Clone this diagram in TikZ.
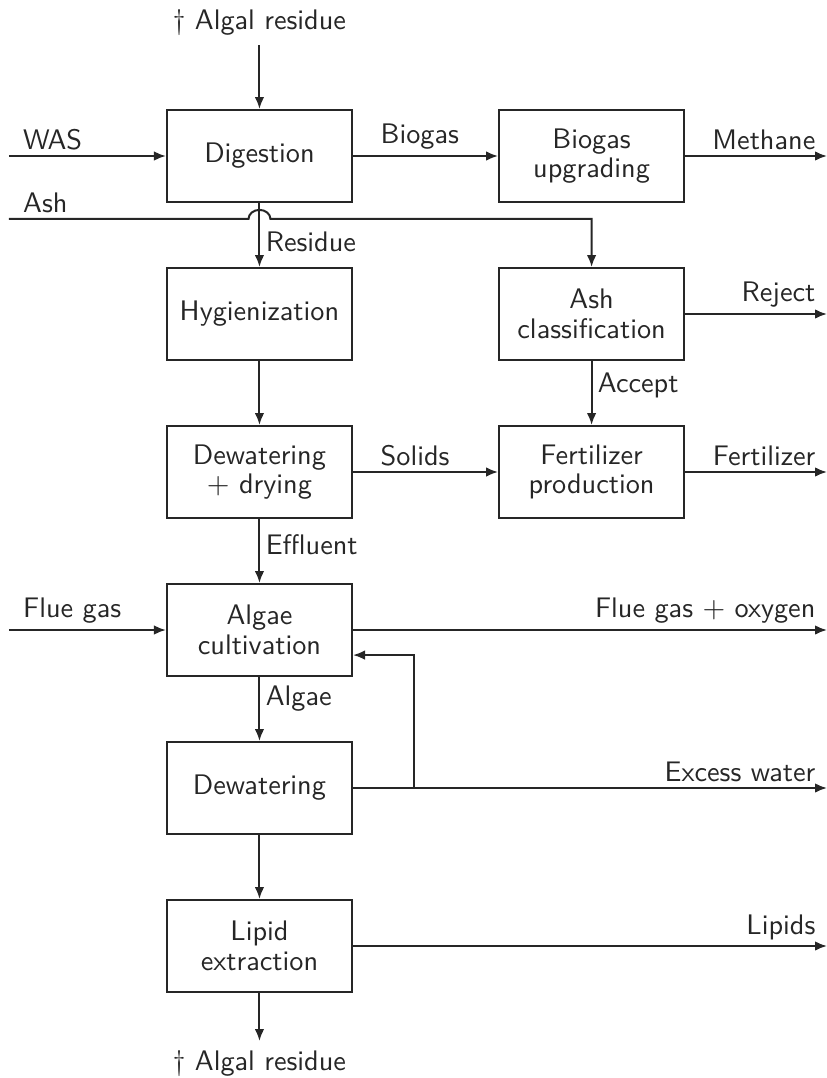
\documentclass[tikz,border=0pt]{standalone}
\usetikzlibrary{arrows.meta, calc, positioning}

\begin{document}
\begin{tikzpicture}[%
  font=\sffamily\fontsize{10.6}{11.1}\selectfont,
  color=black!85, line width=0.75pt,
  block/.style={draw, minimum width=69.4pt, minimum height=34.5pt, align=center},
  flow/.style={-{Latex[length=4.5pt, width=3.6pt]}},
  lbl/.style={inner sep=2pt},
  node distance=24pt and 54.4pt]
  \useasboundingbox (0,0) rectangle (310.1pt,-404.25pt);
  % process blocks
  \node[block] (dig) at (97.3pt,-58.5pt) {Digestion};
  \node[block, right=of dig] (bgu) {Biogas\\upgrading};
  \node[block, below=of dig] (hyg) {Hygienization};
  \node[block, below=of bgu] (ash) {Ash\\classification};
  \node[block, below=of hyg] (dry) {Dewatering\\$+$ drying};
  \node[block, below=of ash] (fert) {Fertilizer\\production};
  \node[block, below=of dry] (alg) {Algae\\cultivation};
  \node[block, below=of alg] (dew) {Dewatering};
  \node[block, below=of dew] (lip) {Lipid\\extraction};
  \node (topres) [above=24pt of dig] {\textdagger\ Algal residue};
  \node (botres) [below=18pt of lip] {\textdagger\ Algal residue};
  % border points
  \coordinate (ledge) at ($(dig.west)+(-58.9pt,0)$);
  \coordinate (redge) at ($(bgu.east)+(53.2pt,0)$);
  \coordinate (ashin) at ($(ledge)+(0,-23.6pt)$);
  \coordinate (hop) at (ashin -| dig.south);
  \coordinate (split) at ($(dew.east)+(22.9pt,0)$);
  \coordinate (ret) at ($(alg.east)+(0,-9.4pt)$);
  % main line
  \draw[flow] (topres) -- (dig);
  \draw[flow] (dig) -- node[lbl, right, pos=0.6] {Residue} (hyg);
  \draw[flow] (hyg) -- (dry);
  \draw[flow] (dry) -- node[lbl, right, pos=0.4] {Effluent} (alg);
  \draw[flow] (alg) -- node[lbl, right, pos=0.33] {Algae} (dew);
  \draw[flow] (dew) -- (lip);
  \draw[flow] (lip) -- (botres);
  \draw[flow] (ash) -- node[lbl, right, pos=0.38] {Accept} (fert);
  % inputs
  \draw[flow] (ledge) -- node[lbl, above right, pos=0, xshift=3pt] {WAS} (dig);
  \draw[flow] (ashin) node[lbl, above right, xshift=3pt] {Ash}
    -- ($(hop)+(-4.1pt,0)$) arc[start angle=180, end angle=0, x radius=4.1pt, y radius=3.4pt]
    -- (hop -| ash.north) -- (ash.north);
  \draw[flow] (ledge |- alg) -- node[lbl, above right, pos=0, xshift=3pt] {Flue gas} (alg);
  % streams between blocks
  \draw[flow] (dig) -- node[lbl, above right, pos=0, xshift=8pt] {Biogas} (bgu);
  \draw[flow] (dry) -- node[lbl, above right, pos=0, xshift=8pt] {Solids} (fert);
  \draw[flow] (split) |- (ret);
  % outputs
  \draw[flow] (bgu) -- node[lbl, above left, pos=1, xshift=-2pt] {Methane} (bgu -| redge);
  \draw[flow] (ash) -- node[lbl, above left, pos=1, xshift=-2pt] {Reject} (ash -| redge);
  \draw[flow] (fert) -- node[lbl, above left, pos=1, xshift=-2pt] {Fertilizer} (fert -| redge);
  \draw[flow] (alg) -- node[lbl, above left, pos=1, xshift=-2pt] {Flue gas $+$ oxygen} (alg -| redge);
  \draw[flow] (dew) -- node[lbl, above left, pos=1, xshift=-2pt] {Excess water} (dew -| redge);
  \draw[flow] (lip) -- node[lbl, above left, pos=1, xshift=-2pt] {Lipids} (lip -| redge);
\end{tikzpicture}
\end{document}
